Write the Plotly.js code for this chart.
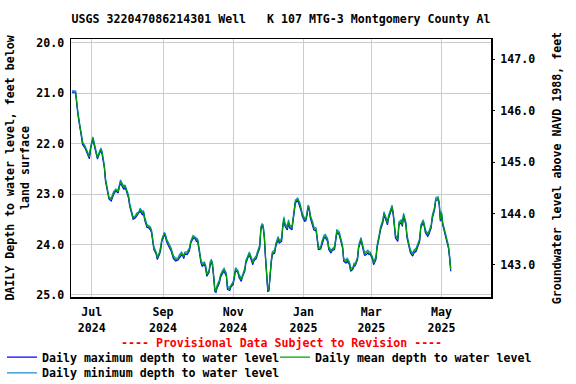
<!DOCTYPE html>
<html>
<head>
<meta charset="utf-8">
<script src="https://cdn.plot.ly/plotly-3.0.1.min.js"></script>
<style>html,body{margin:0;padding:0;background:#fff;}#chart{width:576px;height:384px;}</style>
</head>
<body>
<div id="chart"></div>
<script>
const chartTitle = "USGS 322047086214301 Well   K 107 MTG-3 Montgomery County Al";
const leftAxisTitle = "DAILY Depth to water level, feet below<br>land surface";
const rightAxisTitle = "Groundwater level above NAVD 1988, feet";
const provisionalNote = "---- Provisional Data Subject to Revision ----";
const seriesNames = ["Daily maximum depth to water level", "Daily mean depth to water level", "Daily minimum depth to water level"];

const dates = [
"2024-06-14","2024-06-17","2024-06-19","2024-06-20","2024-06-21","2024-06-22","2024-06-23","2024-06-25","2024-06-27","2024-06-29",
"2024-06-30","2024-07-02","2024-07-03","2024-07-04","2024-07-05","2024-07-06","2024-07-08","2024-07-09","2024-07-10","2024-07-11",
"2024-07-12","2024-07-13","2024-07-15","2024-07-16","2024-07-18","2024-07-19","2024-07-20","2024-07-22","2024-07-24","2024-07-25",
"2024-07-26","2024-07-28","2024-07-29","2024-07-30","2024-07-31","2024-08-02","2024-08-03","2024-08-05","2024-08-06","2024-08-08",
"2024-08-09","2024-08-11","2024-08-12","2024-08-14","2024-08-15","2024-08-16","2024-08-18","2024-08-19","2024-08-21","2024-08-22",
"2024-08-23","2024-08-24","2024-08-26","2024-08-27","2024-08-29","2024-08-30","2024-08-31","2024-09-02","2024-09-03","2024-09-04",
"2024-09-06","2024-09-08","2024-09-10","2024-09-12","2024-09-14","2024-09-15","2024-09-17","2024-09-18","2024-09-19","2024-09-20",
"2024-09-22","2024-09-24","2024-09-25","2024-09-27","2024-09-29","2024-09-30","2024-10-01","2024-10-02","2024-10-03","2024-10-04",
"2024-10-05","2024-10-07","2024-10-08","2024-10-09","2024-10-11","2024-10-12","2024-10-13","2024-10-14","2024-10-15","2024-10-16",
"2024-10-17","2024-10-18","2024-10-20","2024-10-21","2024-10-23","2024-10-24","2024-10-26","2024-10-27","2024-10-29","2024-10-30",
"2024-11-01","2024-11-02","2024-11-03","2024-11-05","2024-11-06","2024-11-08","2024-11-09","2024-11-11","2024-11-12","2024-11-14",
"2024-11-15","2024-11-17","2024-11-18","2024-11-19","2024-11-21","2024-11-22","2024-11-24","2024-11-25","2024-11-26","2024-11-27",
"2024-11-28","2024-11-29","2024-11-30","2024-12-01","2024-12-02","2024-12-03","2024-12-04","2024-12-05","2024-12-07","2024-12-08",
"2024-12-10","2024-12-11","2024-12-13","2024-12-14","2024-12-15","2024-12-16","2024-12-18","2024-12-19","2024-12-20","2024-12-22",
"2024-12-23","2024-12-24","2024-12-25","2024-12-27","2024-12-28","2024-12-29","2024-12-30","2024-12-31","2025-01-02","2025-01-03",
"2025-01-04","2025-01-05","2025-01-06","2025-01-07","2025-01-09","2025-01-10","2025-01-12","2025-01-13","2025-01-14","2025-01-16",
"2025-01-17","2025-01-19","2025-01-20","2025-01-22","2025-01-23","2025-01-25","2025-01-26","2025-01-28","2025-01-29","2025-01-30",
"2025-02-01","2025-02-02","2025-02-04","2025-02-05","2025-02-07","2025-02-08","2025-02-10","2025-02-11","2025-02-13","2025-02-14",
"2025-02-15","2025-02-17","2025-02-18","2025-02-20","2025-02-21","2025-02-23","2025-02-24","2025-02-26","2025-02-27","2025-02-28",
"2025-03-02","2025-03-03","2025-03-05","2025-03-06","2025-03-08","2025-03-09","2025-03-11","2025-03-12","2025-03-14","2025-03-15",
"2025-03-16","2025-03-18","2025-03-19","2025-03-20","2025-03-21","2025-03-22","2025-03-24","2025-03-25","2025-03-27","2025-03-28",
"2025-03-29","2025-03-31","2025-04-01","2025-04-03","2025-04-04","2025-04-06","2025-04-07","2025-04-09","2025-04-10","2025-04-12",
"2025-04-13","2025-04-15","2025-04-16","2025-04-17","2025-04-19","2025-04-20","2025-04-22","2025-04-23","2025-04-25","2025-04-26",
"2025-04-28","2025-04-29","2025-04-30","2025-05-01","2025-05-02","2025-05-04","2025-05-05","2025-05-07","2025-05-08","2025-05-09"
];

const meanDepth = [
20.97,20.98,21.40,21.60,21.70,21.83,21.99,22.06,22.16,22.27,
22.09,21.89,21.99,22.09,22.22,22.29,22.16,22.12,22.18,22.29,
22.46,22.72,22.98,23.08,23.11,23.05,22.98,22.92,22.95,22.84,
22.75,22.84,22.88,22.84,22.92,23.05,23.21,23.38,23.48,23.45,
23.41,23.37,23.31,23.38,23.35,23.48,23.63,23.64,23.68,23.74,
23.91,24.07,24.17,24.27,24.17,24.07,23.91,23.79,23.81,23.91,
24.01,24.10,24.25,24.30,24.29,24.24,24.18,24.20,24.25,24.17,
24.17,24.09,23.96,23.85,23.87,23.91,23.91,24.04,24.24,24.34,
24.40,24.37,24.44,24.60,24.53,24.37,24.32,24.40,24.63,24.90,
24.93,24.83,24.73,24.62,24.53,24.50,24.60,24.86,24.88,24.82,
24.76,24.63,24.49,24.53,24.62,24.70,24.62,24.50,24.34,24.22,
24.18,24.30,24.37,24.30,24.25,24.17,24.04,23.68,23.61,23.64,
23.84,24.24,24.70,24.90,24.90,24.57,24.34,24.17,24.14,24.01,
23.87,23.94,23.91,23.64,23.48,23.61,23.68,23.54,23.64,23.68,
23.48,23.31,23.15,23.10,23.15,23.21,23.31,23.41,23.51,23.51,
23.41,23.25,23.28,23.45,23.58,23.68,23.70,23.87,24.07,24.07,
23.97,23.84,23.83,23.91,24.07,24.14,24.10,24.07,23.91,23.74,
23.77,23.87,24.04,24.30,24.34,24.30,24.37,24.50,24.47,24.40,
24.40,24.27,24.04,23.89,23.99,24.18,24.18,24.14,24.17,24.17,
24.27,24.37,24.27,24.04,23.81,23.68,23.54,23.38,23.51,23.58,
23.45,23.31,23.25,23.38,23.61,23.84,23.91,23.58,23.54,23.61,
23.41,23.58,23.84,24.07,24.14,24.20,24.14,24.10,24.04,23.91,
23.64,23.54,23.61,23.74,23.81,23.77,23.64,23.45,23.28,23.10,
23.08,23.18,23.51,23.38,23.58,23.77,23.91,24.04,24.24,24.50
];

const maxDepth = [
20.99,21.00,21.43,21.63,21.72,21.86,22.02,22.08,22.19,22.30,
22.11,21.91,22.02,22.12,22.25,22.31,22.18,22.15,22.21,22.32,
22.49,22.75,23.01,23.10,23.14,23.07,23.01,22.94,22.98,22.86,
22.78,22.87,22.91,22.86,22.95,23.08,23.24,23.41,23.50,23.47,
23.44,23.39,23.34,23.41,23.37,23.51,23.66,23.66,23.71,23.77,
23.94,24.10,24.19,24.30,24.19,24.10,23.93,23.82,23.83,23.94,
24.04,24.13,24.28,24.33,24.31,24.27,24.21,24.22,24.28,24.19,
24.20,24.12,23.98,23.88,23.89,23.94,23.93,24.07,24.27,24.37,
24.43,24.39,24.47,24.63,24.55,24.40,24.35,24.43,24.66,24.93,
24.95,24.86,24.76,24.65,24.56,24.53,24.63,24.89,24.91,24.84,
24.79,24.66,24.52,24.55,24.65,24.73,24.64,24.53,24.37,24.25,
24.21,24.33,24.40,24.32,24.28,24.20,24.07,23.71,23.63,23.67,
23.87,24.27,24.73,24.93,24.92,24.60,24.37,24.20,24.17,24.04,
23.90,23.97,23.94,23.67,23.51,23.64,23.71,23.57,23.67,23.71,
23.51,23.34,23.18,23.12,23.18,23.24,23.34,23.44,23.54,23.53,
23.44,23.28,23.31,23.48,23.61,23.71,23.73,23.90,24.10,24.09,
24.00,23.87,23.86,23.94,24.10,24.17,24.12,24.10,23.94,23.77,
23.80,23.90,24.07,24.33,24.37,24.33,24.40,24.53,24.49,24.43,
24.42,24.30,24.07,23.92,24.02,24.21,24.21,24.17,24.20,24.19,
24.30,24.40,24.30,24.07,23.84,23.71,23.57,23.41,23.54,23.61,
23.48,23.34,23.28,23.41,23.64,23.87,23.94,23.61,23.57,23.64,
23.44,23.61,23.87,24.10,24.17,24.23,24.17,24.13,24.07,23.94,
23.67,23.57,23.64,23.77,23.84,23.80,23.67,23.48,23.31,23.13,
23.11,23.21,23.54,23.41,23.61,23.80,23.94,24.07,24.27,24.53
];

const minDepth = [
20.95,20.96,21.37,21.57,21.68,21.80,21.96,22.04,22.13,22.25,
22.07,21.87,21.96,22.06,22.19,22.27,22.14,22.09,22.15,22.26,
22.43,22.69,22.95,23.06,23.08,23.03,22.95,22.90,22.92,22.82,
22.72,22.81,22.85,22.82,22.89,23.02,23.18,23.35,23.46,23.43,
23.38,23.35,23.28,23.35,23.33,23.45,23.60,23.62,23.65,23.71,
23.88,24.04,24.15,24.24,24.15,24.04,23.89,23.76,23.79,23.88,
23.98,24.07,24.22,24.27,24.27,24.21,24.15,24.18,24.22,24.15,
24.14,24.06,23.94,23.82,23.85,23.88,23.89,24.01,24.21,24.31,
24.37,24.35,24.41,24.57,24.51,24.34,24.29,24.37,24.60,24.87,
24.91,24.80,24.70,24.59,24.50,24.47,24.57,24.83,24.85,24.80,
24.73,24.60,24.46,24.51,24.59,24.67,24.60,24.47,24.31,24.19,
24.15,24.27,24.34,24.28,24.22,24.14,24.01,23.65,23.59,23.61,
23.81,24.21,24.67,24.87,24.88,24.54,24.31,24.14,24.11,23.98,
23.84,23.91,23.88,23.61,23.45,23.58,23.65,23.51,23.61,23.65,
23.45,23.28,23.12,23.08,23.12,23.18,23.28,23.38,23.48,23.49,
23.38,23.22,23.25,23.42,23.55,23.65,23.67,23.84,24.04,24.05,
23.94,23.81,23.80,23.88,24.04,24.11,24.08,24.04,23.88,23.71,
23.74,23.84,24.01,24.27,24.31,24.27,24.34,24.47,24.45,24.37,
24.38,24.24,24.01,23.86,23.96,24.15,24.15,24.11,24.14,24.15,
24.24,24.34,24.24,24.01,23.78,23.65,23.51,23.35,23.48,23.55,
23.42,23.28,23.22,23.35,23.58,23.81,23.88,23.55,23.51,23.58,
23.38,23.55,23.81,24.04,24.11,24.17,24.11,24.07,24.01,23.88,
23.61,23.51,23.58,23.71,23.78,23.74,23.61,23.42,23.25,23.07,
23.05,23.15,23.48,23.35,23.55,23.74,23.88,24.01,24.21,24.47
];

const depthRange = [25.04, 19.93];
const elevationRange = [142.376, 147.395];
const dateRange = ["2024-06-13", "2025-06-13"];

const FONT = "DejaVu Sans Mono, monospace";
const baseFont = {family: FONT, size: 11.6, color: "#000", weight: "bold"};

const traces = [
  {x: dates, y: minDepth, name: seriesNames[2], type: "scatter", mode: "lines",
   line: {color: "#1a8ad8", width: 1.2}, legend: "legend3"},
  {x: dates, y: maxDepth, name: seriesNames[0], type: "scatter", mode: "lines",
   line: {color: "#0000ff", width: 1.2}, legend: "legend"},
  {x: dates, y: meanDepth, name: seriesNames[1], type: "scatter", mode: "lines",
   line: {color: "#00a000", width: 1.2}, legend: "legend2"},
  {x: [], y: [], yaxis: "y2", type: "scatter", mode: "lines", showlegend: false, hoverinfo: "skip"}
];

function legendAt(leftPx, topPx) {
  return {
    orientation: "h", xref: "container", yref: "container",
    x: leftPx / 576, xanchor: "left", y: 1 - topPx / 384, yanchor: "top",
    font: baseFont, bgcolor: "rgba(0,0,0,0)", borderwidth: 0,
    itemclick: false, itemdoubleclick: false
  };
}

const layout = {
  width: 576, height: 384,
  margin: {l: 71, r: 85, t: 39, b: 87, pad: 0},
  paper_bgcolor: "#fff", plot_bgcolor: "#fff",
  font: baseFont,
  showlegend: true,
  title: {text: chartTitle, font: baseFont, x: 0.5, xref: "paper", y: 1 - 19/384, yref: "container", yanchor: "middle"},
  xaxis: {
    type: "date", range: dateRange, tick0: "2024-07-01", dtick: "M2", tickformat: "%b<br>%Y",
    showgrid: true, gridcolor: "#cccccc", gridwidth: 1, zeroline: false,
    showline: true, linecolor: "#000", linewidth: 1.5, mirror: true, ticks: "",
    tickfont: baseFont, ticklabelstandoff: 4
  },
  yaxis: {
    range: depthRange, tick0: 20, dtick: 1, tickformat: ".1f",
    showgrid: true, gridcolor: "#cccccc", gridwidth: 1, zeroline: false,
    showline: true, linecolor: "#000", linewidth: 1.5, mirror: true, ticks: "",
    tickfont: baseFont, ticklabelstandoff: 3,
    title: {text: leftAxisTitle, font: baseFont, standoff: 4}
  },
  yaxis2: {
    overlaying: "y", side: "right", range: elevationRange, tick0: 143, dtick: 1, tickformat: ".1f",
    showgrid: false, zeroline: false, showline: false, ticks: "outside", ticklen: 3, tickcolor: "#000",
    tickfont: baseFont, ticklabelstandoff: 3,
    title: {text: rightAxisTitle, font: baseFont, standoff: 18}
  },
  legend: legendAt(2, 342.7),
  legend2: legendAt(275, 342.7),
  legend3: legendAt(2, 358.3),
  annotations: [
    {text: provisionalNote, xref: "paper", yref: "paper", x: 0.5, y: -46/258, xanchor: "center", yanchor: "middle",
     showarrow: false, font: {family: FONT, size: 11.6, color: "#ff0000", weight: "bold"}}
  ]
};

Plotly.newPlot("chart", traces, layout, {staticPlot: true, displayModeBar: false});
</script>
</body>
</html>
